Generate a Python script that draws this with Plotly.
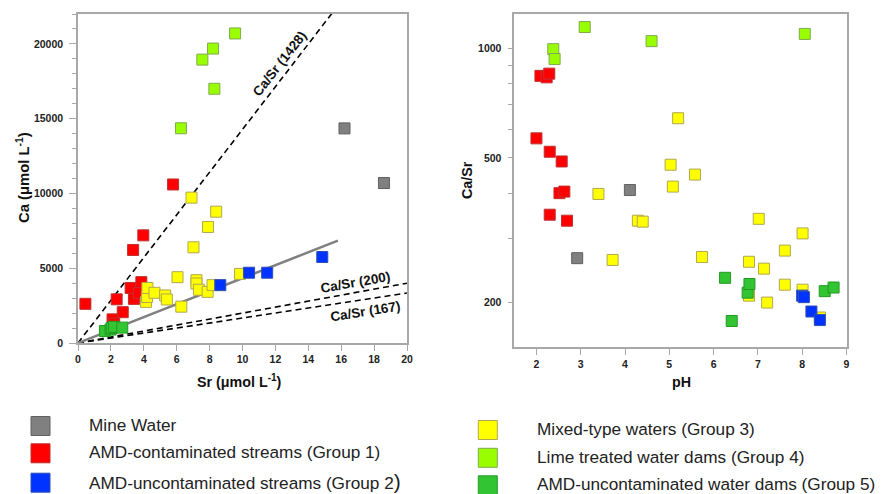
import plotly.graph_objects as go

W, H = 883, 494
OFF = 8  # page body margin of the html page

# ---------------- data ----------------
groups = ["Mine Water", "AMD-contaminated streams (Group 1)", "AMD-uncontaminated streams (Group 2)",
          "Mixed-type waters (Group 3)", "Lime treated water dams (Group 4)",
          "AMD-uncontaminated water dams (Group 5)"]
fill_colors = ["#808080", "#ff0000", "#0033ff", "#ffff00", "#99ff00", "#33c433"]
edge_colors = ["#606060", "#c03030", "#3050b0", "#b0a850", "#80a850", "#229a22"]

# Left panel: Sr (umol/L) vs Ca (umol/L)
mine_sr = [16.2, 18.6]
mine_ca = [14350, 10700]
g1_sr = [0.45, 2.1, 2.2, 2.35, 2.72, 3.2, 3.35, 3.4, 3.7, 3.85, 3.97, 5.78]
g1_ca = [2620, 1580, 1300, 2920, 2060, 3680, 6220, 2950, 3350, 4070, 7200, 10600]
g2_sr = [8.65, 10.4, 11.5, 14.85]
g2_ca = [3870, 4700, 4700, 5750]
g3_sr = [4.13, 4.2, 4.22, 4.65, 5.3, 5.4, 6.05, 6.28, 6.9, 7.02, 7.2, 7.2, 7.35, 7.88, 7.9, 8.18, 8.4, 9.85]
g3_ca = [2750, 3080, 3680, 3360, 3180, 2910, 4400, 2430, 9720, 6400, 4200, 3980, 3560, 3420, 7760, 3870, 8780, 4620]
g4_sr = [6.26, 7.56, 8.21, 8.29, 9.55]
g4_ca = [14360, 18950, 19690, 17000, 20700]
g5_sr = [1.64, 1.98, 2.05, 2.19, 2.69]
g5_ca = [800, 900, 1000, 1080, 1030]

trend_sr = [0, 15.8]
trend_ca = [0, 6850]
ratio_values = [1428, 200, 167]
ratio_sr = [0, 20]

# Right panel: pH vs Ca/Sr
mine_ph = [2.92, 4.11]
mine_r = [265, 408]
g1_ph = [2.0, 2.09, 2.23, 2.29, 2.30, 2.57, 2.52, 2.63, 2.30, 2.69]
g1_r = [566, 841, 833, 853, 520, 489, 400, 404, 349, 336]
g2_ph = [8.00, 8.04, 8.21, 8.40]
g2_r = [209, 207, 189, 179]
g3_ph = [3.40, 3.72, 4.29, 4.40, 5.03, 5.08, 5.20, 5.58, 5.74, 6.80, 6.80, 7.02, 7.14, 7.21, 7.61, 7.61, 8.01, 8.01, 8.40]
g3_r = [398, 262, 336, 334, 479, 417, 643, 450, 267, 259, 209, 340, 248, 200, 278, 224, 310, 217, 182]
g4_ph = [2.38, 2.41, 3.09, 4.60, 8.06]
g4_r = [996, 936, 1146, 1048, 1097]
g5_ph = [6.26, 6.41, 6.77, 6.81, 8.51, 8.71]
g5_r = [234, 178, 213, 225, 215, 220]

left_x_ticks = [0, 2, 4, 6, 8, 10, 12, 14, 16, 18, 20]
left_y_ticks = [0, 5000, 10000, 15000, 20000]
left_y_labels = ["0", "5000", "10000", "15000", "20000"]
right_x_ticks = [2, 3, 4, 5, 6, 7, 8, 9]
right_y_ticks = [200, 300, 400, 500, 600, 700, 800, 900, 1000]
right_y_labels = ["200", "", "", "500", "", "", "", "", "1000"]

# ---------------- figure ----------------
def fx(px):
    return (px - OFF) / W

def fy(py):
    return 1 - (py - OFF) / H

FONT = "Arial, Liberation Sans, sans-serif"
fig = go.Figure()

# reference lines (left panel)
for r in ratio_values:
    fig.add_trace(go.Scatter(x=ratio_sr, y=[r * s for s in ratio_sr], mode="lines",
                             line=dict(color="black", width=1.6, dash="6px,4px"),
                             xaxis="x", yaxis="y", showlegend=False, hoverinfo="skip"))
fig.add_trace(go.Scatter(x=trend_sr, y=trend_ca, mode="lines",
                         line=dict(color="#808080", width=2.5),
                         xaxis="x", yaxis="y", showlegend=False, hoverinfo="skip"))

left_sets = [(mine_sr, mine_ca), (g1_sr, g1_ca), (g3_sr, g3_ca), (g4_sr, g4_ca), (g5_sr, g5_ca), (g2_sr, g2_ca)]
right_sets = [(mine_ph, mine_r), (g1_ph, g1_r), (g3_ph, g3_r), (g4_ph, g4_r), (g5_ph, g5_r), (g2_ph, g2_r)]
order = [0, 1, 3, 4, 5, 2]

for (xs, ys), gi in zip(left_sets, order):
    fig.add_trace(go.Scatter(x=xs, y=ys, mode="markers", name=groups[gi],
                             marker=dict(symbol="square", size=11, color=fill_colors[gi],
                                         line=dict(color=edge_colors[gi], width=1)),
                             xaxis="x", yaxis="y", showlegend=False))
for (xs, ys), gi in zip(right_sets, order):
    fig.add_trace(go.Scatter(x=xs, y=ys, mode="markers", name=groups[gi],
                             marker=dict(symbol="square", size=11, color=fill_colors[gi],
                                         line=dict(color=edge_colors[gi], width=1)),
                             xaxis="x2", yaxis="y2", showlegend=False))

tickfont = dict(family=FONT, size=10.5, color="#222222", weight="bold")
axis_common = dict(showgrid=False, zeroline=False, showline=True, mirror=True,
                   linecolor="#a8a8a8", linewidth=1.5, ticks="outside",
                   tickcolor="#a8a8a8", tickwidth=1, tickfont=tickfont, automargin=False)

fig.update_layout(
    width=W, height=H, margin=dict(l=0, r=0, t=0, b=0, autoexpand=False),
    paper_bgcolor="white", plot_bgcolor="white", showlegend=False,
    xaxis=dict(domain=[fx(78), fx(407)], range=[0, 20], tickvals=left_x_ticks,
               ticklen=6, anchor="y", **axis_common),
    yaxis=dict(domain=[fy(343), fy(14)], range=[0, 22000], tickvals=left_y_ticks,
               ticktext=left_y_labels, ticklen=7, anchor="x", ticklabelstandoff=4,
               minor=dict(dtick=1000, ticks="outside", ticklen=4, tickcolor="#a8a8a8"),
               **axis_common),
    xaxis2=dict(domain=[fx(514.3), fx(847.3)], range=[1.5, 9.02], tickvals=right_x_ticks,
                ticklen=6, anchor="y2", **axis_common),
    yaxis2=dict(domain=[fy(347.3), fy(14)], type="log", range=[2.178, 3.095],
                tickvals=right_y_ticks, ticktext=right_y_labels, ticklen=5,
                anchor="x2", ticklabelstandoff=4, **axis_common),
)

bold = dict(family=FONT, color="#111111", weight="bold")
annots = [
    dict(text="Ca/Sr (1428)", x=fx(280), y=fy(64), textangle=-52, size=13.5),
    dict(text="Ca/Sr (200)", x=fx(355), y=fy(282), textangle=-10, size=13.5),
    dict(text="Ca/Sr (167)", x=fx(365), y=fy(311), textangle=-9, size=13.5),
    dict(text="Sr (μmol L<sup>-1</sup>)", x=fx(240), y=fy(381), textangle=0, size=14.3),
    dict(text="Ca (μmol L<sup>-1</sup>)", x=fx(23), y=fy(178), textangle=-90, size=14.8),
    dict(text="pH", x=fx(681), y=fy(382), textangle=0, size=14.3),
    dict(text="Ca/Sr", x=fx(467), y=fy(180), textangle=-90, size=14.3),
]
for a in annots:
    fig.add_annotation(text=a["text"], x=a["x"], y=a["y"], xref="paper", yref="paper",
                       xanchor="center", yanchor="middle", textangle=a["textangle"],
                       showarrow=False, font=dict(size=a["size"], **bold))

# legend (manual, two columns)
legend_pos = [(31, 426), (31, 453.3), (31, 482.7), (478.3, 430), (478.3, 457.8), (478.3, 485.3)]
legend_text_x = [87, 87, 87, 535, 535, 535]
legend_labels = list(groups)
legend_labels[2] = "AMD-uncontaminated streams (Group 2<span style='font-size:21px'>)</span>"
for i, ((sx, sy), tx) in enumerate(zip(legend_pos, legend_text_x)):
    fig.add_shape(type="rect", xref="paper", yref="paper",
                  x0=fx(sx), x1=fx(sx + 19), y0=fy(sy + 9.5), y1=fy(sy - 9.5),
                  fillcolor=fill_colors[i], line=dict(color=edge_colors[i], width=1))
    fig.add_annotation(text=legend_labels[i], x=fx(tx), y=fy(sy - 1), xref="paper", yref="paper",
                       xanchor="left", yanchor="middle", showarrow=False,
                       font=dict(family=FONT, size=17.2, color="#222222"))

fig.write_html("out.html")
